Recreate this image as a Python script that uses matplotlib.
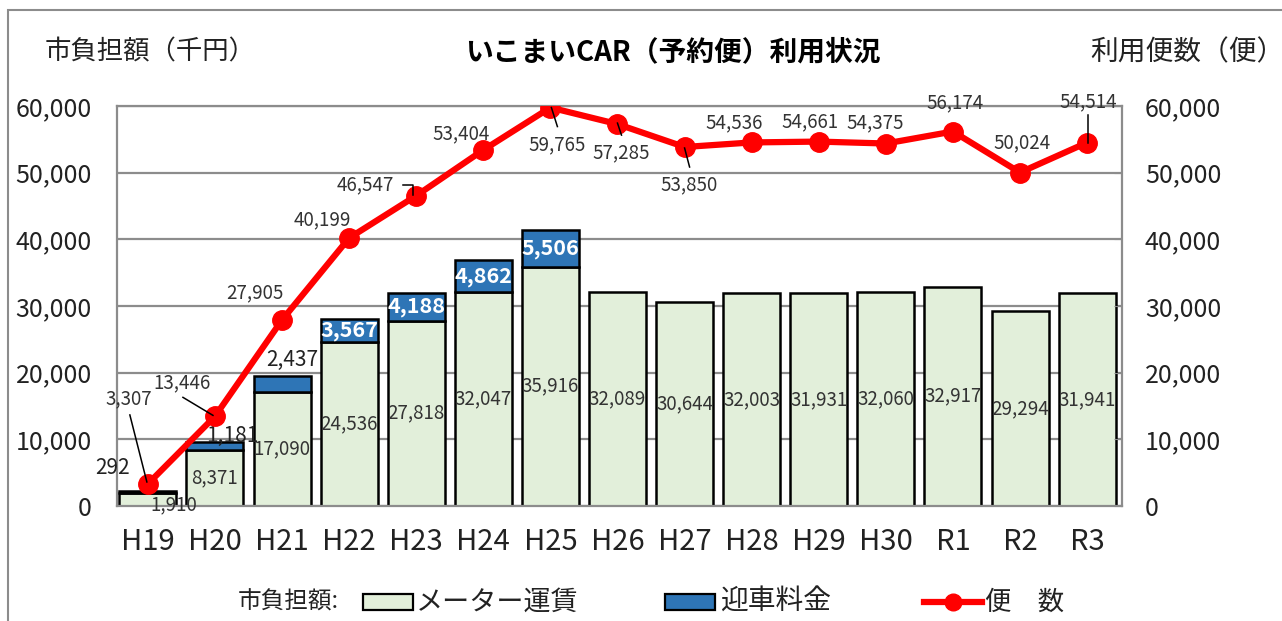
import matplotlib
matplotlib.use("Agg")
import matplotlib.pyplot as plt
from matplotlib.patches import Rectangle
from matplotlib.lines import Line2D
from matplotlib.transforms import IdentityTransform

plt.rcParams['font.family'] = ['Noto Sans CJK JP', 'DejaVu Sans']

years = ["H19", "H20", "H21", "H22", "H23", "H24", "H25", "H26", "H27", "H28", "H29", "H30", "R1", "R2", "R3"]
meter = [1910, 8371, 17090, 24536, 27818, 32047, 35916, 32089, 30644, 32003, 31931, 32060, 32917, 29294, 31941]
pickup = [292, 1181, 2437, 3567, 4188, 4862, 5506, 0, 0, 0, 0, 0, 0, 0, 0]
flights = [3307, 13446, 27905, 40199, 46547, 53404, 59765, 57285, 53850, 54536, 54661, 54375, 56174, 50024, 54514]

green = "#E2EFDA"
blue = "#2E75B6"
red = "#FF0000"
txt = "#333333"

W, H = 1282, 621
fig = plt.figure(figsize=(W / 100, H / 100), dpi=100)
ax = fig.add_axes([117/W, 1-506/H, (1122-117)/W, 400/H])
x = list(range(len(years)))

ax.set_ylim(0, 60000)
ax.set_xlim(-0.46, 14.52)
ticks = list(range(0, 60001, 10000))
ax.set_yticks(ticks)
ax.yaxis.grid(True, color="#8c8c8c", lw=1.6)
ax.set_axisbelow(True)
for s in ax.spines.values():
    s.set_color("#8c8c8c"); s.set_linewidth(1.6)

ax.bar(x, meter, width=0.85, color=green, edgecolor="black", lw=1.8, zorder=2)
pk_x = [i for i in x if pickup[i] > 0]
ax.bar(pk_x, [pickup[i] for i in pk_x], bottom=[meter[i] for i in pk_x], width=0.85,
       color=blue, edgecolor="black", lw=1.8, zorder=2)

ax.set_yticklabels([f"{v:,}" for v in ticks], fontsize=18, color="#222222")
ax.tick_params(axis='y', length=0, pad=18)
ax.set_xticks(x)
ax.set_xticklabels(years, fontsize=21, color="#222222")
ax.tick_params(axis='x', length=0, pad=15)

ax2 = ax.twinx()
ax2.set_ylim(0, 60000)
ax2.set_yticks(ticks)
ax2.set_yticklabels([f"{v:,}" for v in ticks], fontsize=18, color="#222222")
ax2.tick_params(axis='y', direction='in', length=6, color="#8c8c8c", pad=16.5)
for s in ax2.spines.values():
    s.set_visible(False)
ax2.plot(x, flights, color=red, lw=4.5, marker='o', ms=14, zorder=5)

# meter (fare) labels, centred in the bars
for i, v in enumerate(meter):
    if i == 0:
        ax.annotate(f"{v:,}", (i, v), xytext=(26, -12), textcoords='offset pixels',
                    ha='center', va='center', fontsize=13.5, color=txt, zorder=6, annotation_clip=False)
    else:
        ax.text(i, v / 2, f"{v:,}", ha='center', va='center', fontsize=13.5, color=txt, zorder=6)

# pickup labels
pk_off = {0: (-35, 23), 1: (17, 6), 2: (10, 16)}
for i in pk_x:
    top = meter[i] + pickup[i]
    if i in pk_off:
        ax.annotate(f"{pickup[i]:,}", (i, top), xytext=pk_off[i], textcoords='offset pixels',
                    ha='center', va='center', fontsize=15, color="#222222", zorder=6)
    else:
        ax.text(i, meter[i] + pickup[i] / 2, f"{pickup[i]:,}", ha='center', va='center',
                fontsize=15.5, color="white", fontweight='bold', zorder=6)

# flight labels (pixel offsets from each point)
fl_off = [(-19, 85), (-33, 34), (-27, 27), (-27, 18), (-51, 11), (-22, 16), (7, -37),
          (4, -29), (5, -38), (-18, 20), (-9, 20), (-11, 21), (2, 29), (2, 30), (1, 41)]
for i, v in enumerate(flights):
    ax2.annotate(f"{v:,}", (i, v), xytext=fl_off[i], textcoords='offset pixels',
                 ha='center', va='center', fontsize=13.5, color=txt, zorder=6)

# leader lines (pixel offsets from the point)
leaders = {0: [(-18, 69), (-1, 2)], 1: [(-32, 19), (-2, 1)],
           4: [(-13, 11), (-3, 11), (-3, 1)], 6: [(1, 0), (7, -19)],
           7: [(0, 1), (4, -11)], 8: [(0, -1), (5, -20)], 14: [(1, 28), (1, 0)]}
fig.canvas.draw()
for i, segs in leaders.items():
    px, py = ax2.transData.transform((i, flights[i]))
    xs = [px + dx for dx, dy in segs]
    ys = [py + dy for dx, dy in segs]
    fig.add_artist(Line2D(xs, ys, transform=IdentityTransform(), color="black", lw=1.1, zorder=10))

# titles
fig.text(673/W, 1-52/H, "いこまいCAR（予約便）利用状況", ha='center', va='center', fontsize=20, fontweight='bold')
fig.text(45/W, 1-52/H, "市負担額（千円）", ha='left', va='center', fontsize=19, color="#222222")
fig.text(1090/W, 1-52/H, "利用便数（便）", ha='left', va='center', fontsize=20, color="#222222")

# legend (drawn manually to match the original layout)
ly = 1 - 602/H
fig.text(238/W, ly, "市負担額:", ha='left', va='center', fontsize=17, color="#222222")
fig.add_artist(Rectangle((363/W, ly - 8/H), 50/W, 16/H, transform=fig.transFigure,
                         facecolor=green, edgecolor="black", lw=1.6))
fig.text(416/W, ly, "メーター運賃", ha='left', va='center', fontsize=19.5, color="#222222")
fig.add_artist(Rectangle((665/W, ly - 8/H), 50/W, 16/H, transform=fig.transFigure,
                         facecolor=blue, edgecolor="black", lw=1.6))
fig.text(720/W, ly, "迎車料金", ha='left', va='center', fontsize=20, color="#222222")
fig.add_artist(Line2D([924/W, 982/W], [ly, ly], transform=fig.transFigure, color=red, lw=4.5, zorder=5))
fig.add_artist(Line2D([953/W], [ly], transform=fig.transFigure, color=red, marker='o', ms=12, zorder=6))
fig.text(985/W, ly, "便　数", ha='left', va='center', fontsize=19, color="#222222")

# figure border
fig.add_artist(Rectangle((8/W, -0.05), 1.1, 1-10/H+0.05, transform=fig.transFigure,
                         fill=False, edgecolor="#8c8c8c", lw=1.5))

fig.savefig("out.png", dpi=100)
